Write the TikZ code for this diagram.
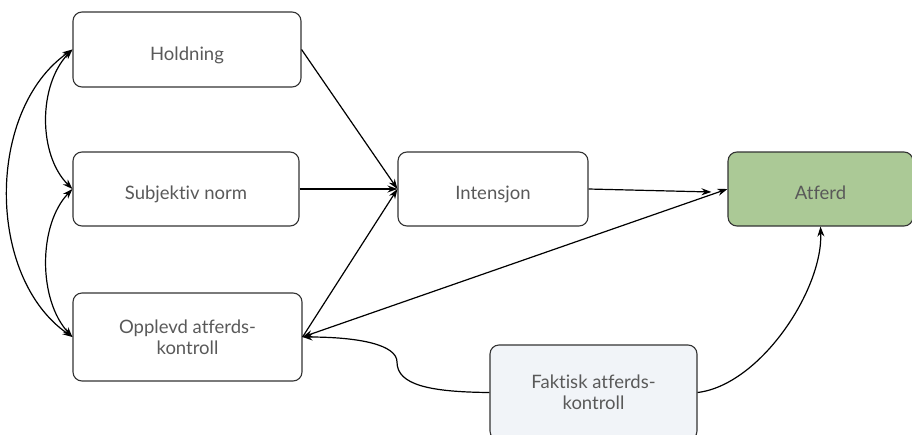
\documentclass[tikz,border=0pt]{standalone}
\usepackage{fontspec}
\setmainfont{Lato}[Ligatures=NoCommon]
\usetikzlibrary{arrows.meta}

\begin{document}
\begin{tikzpicture}[x=1pt,y=-1pt,>={Stealth[length=10pt,width=7pt]},
    box/.style={draw=black!80,line width=1.1pt,rounded corners=9pt,
        text=black!65,align=center,inner sep=0pt,
        font=\fontsize{18.5}{21}\selectfont},
    oneline/.style={text height=21pt,text depth=0pt},
    link/.style={line width=1.2pt}]
    \useasboundingbox (0,0) rectangle (912,434);
    % boxes
    \node[box,oneline,minimum width=228pt,minimum height=75pt] (hold) at (187,49.5) {Holdning};
    \node[box,oneline,minimum width=226pt,minimum height=74pt] (subj) at (186,189) {Subjektiv norm};
    \node[box,minimum width=229pt,minimum height=88pt] (oppl) at (187.5,337) {Opplevd atferds-\\kontroll};
    \node[box,oneline,minimum width=190pt,minimum height=74pt] (intens) at (493,189) {Intensjon};
    \node[box,oneline,fill={rgb,255:red,171;green,201;blue,150},minimum width=185pt,minimum height=74pt]
        (atferd) at (820.5,189) {Atferd};
    \node[box,fill={rgb,255:red,241;green,244;blue,248},minimum width=207pt,minimum height=95pt]
        (fakt) at (593.5,392.5) {Faktisk atferds-\\kontroll};
    % straight links
    \draw[link,->] (hold.east) -- (intens.west);
    \draw[link,->] (subj.east) -- (intens.west);
    \draw[link,->] (oppl.east) -- (intens.west);
    \coordinate (short) at ([xshift=-16pt,yshift=-3pt]atferd.west);
    \draw[link,->] (intens.east) -- (short);
    \draw[link,<->] (oppl.east) -- (atferd.west);
    % correlations on the left
    \draw[link,<->] (hold.west) .. controls (38,85) and (38,155) .. (subj.west);
    \draw[link,<->] (subj.west) .. controls (38,225) and (38,300) .. (oppl.west);
    \draw[link,<->] (hold.west) .. controls (-14,110) and (-14,277) .. (oppl.west);
    % actual control
    \draw[link,->] (fakt.west) .. controls (430,392) and (397,385) .. (397,362)
        .. controls (397,345) and (360,337) .. (oppl.east);
    \draw[link,->] (fakt.east) .. controls (760,385) and (823,290) .. (atferd.south);
\end{tikzpicture}
\end{document}
